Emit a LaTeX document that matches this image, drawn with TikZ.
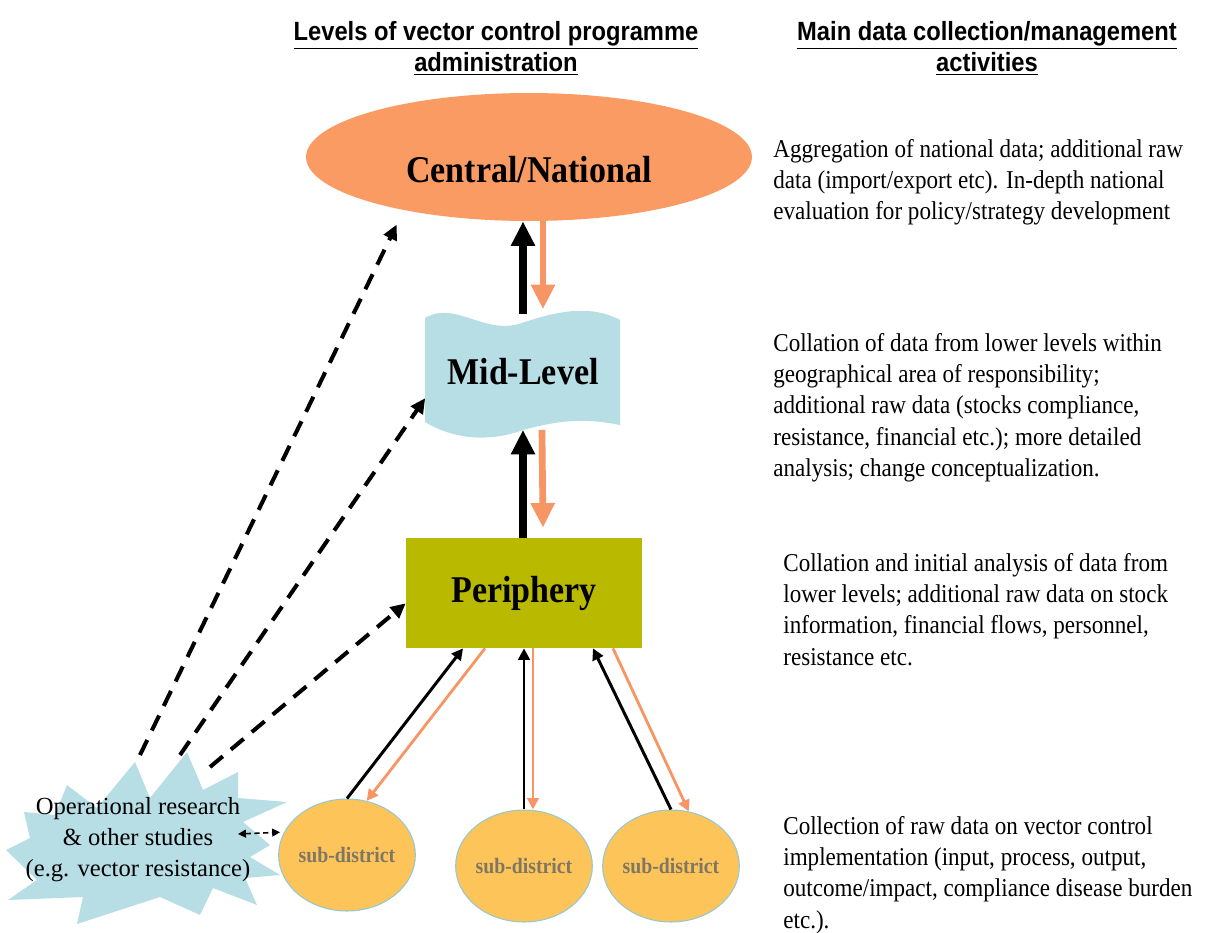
\documentclass[tikz,border=0pt]{standalone}
\usepackage{fontspec}
\usepackage{graphicx}
\setmainfont{Liberation Serif}
\newfontfamily\hfont{Liberation Sans}
\usetikzlibrary{shapes.geometric,arrows.meta}
\definecolor{cenorange}{RGB}{250,155,100}
\definecolor{arrorange}{RGB}{247,150,100}
\definecolor{lblue}{RGB}{183,221,229}
\definecolor{olivebox}{RGB}{185,185,0}
\definecolor{subfill}{RGB}{253,196,90}
\definecolor{subtext}{RGB}{128,118,100}
\definecolor{subedge}{RGB}{150,200,205}
\newcommand\lblk[2]{\scalebox{0.9}[1]{\vtop{#1\halign{##\hfil\cr#2\crcr}}}}
\newcommand\cblk[2]{\scalebox{0.9}[1]{\vtop{#1\halign{\hfil##\hfil\cr#2\crcr}}}}
\newcommand\cblkwide[2]{\vtop{#1\halign{\hfil##\hfil\cr#2\crcr}}}
\newcommand\mybigfont{\fontsize{21.5}{24}\selectfont\bfseries}
\newcommand\mybodyfont{\fontsize{14.6}{17.9}\selectfont}
\newcommand\myheadfont{\hfont\fontsize{15}{18.2}\selectfont\bfseries}
\begin{document}
\begin{tikzpicture}[x=0.02cm,y=-0.02cm,
  bigblack/.style={draw=black,line width=4.2pt,-{Triangle[length=14pt,width=13pt]}},
  bigorange/.style={draw=arrorange,line width=3.8pt,-{Triangle[length=14pt,width=13pt]}},
  thinblack/.style={draw=black,line width=1.7pt,-{Triangle[length=6.5pt,width=6.5pt]}},
  thinorange/.style={draw=arrorange,line width=1.6pt,-{Triangle[length=6.5pt,width=6.5pt]}},
  dasharrow/.style={draw=black,line width=2.3pt,dash pattern=on 9.5pt off 6pt,-{Triangle[length=8.5pt,width=8pt]}},
  smalldash/.style={draw=black,line width=0.9pt,dash pattern=on 3pt off 2pt,{Triangle[length=4.5pt,width=4.5pt]}-{Triangle[length=4.5pt,width=4.5pt]}},
  subdist/.style={ellipse,fill=subfill,draw=subedge,line width=0.6pt,minimum width=2.32cm,minimum height=2.24cm,inner sep=0pt,text=subtext},
  txt/.style={inner sep=0pt,anchor=base west},
  ctxt/.style={inner sep=0pt,anchor=base}]
\useasboundingbox (0,0) rectangle (1218,933);
\fill[white] (0,0) rectangle (1218,933);

% headings
\node[ctxt] (h1) at (496,40) {\cblk{\myheadfont}{\underline{Levels of vector control programme}\cr\underline{administration}}};
\node[ctxt] (h2) at (987,40) {\cblk{\myheadfont}{\underline{Main data collection/management}\cr\underline{activities}}};

% central
\node[ellipse,fill=cenorange,minimum width=8.92cm,minimum height=2.56cm,inner sep=0pt] (cen) at (529,157) {};
\node[inner sep=0pt] (cenlbl) at (529,170) {\scalebox{0.9}[1]{\mybigfont Central/National}};

% mid-level wave
\fill[lblue] (425,318) .. controls (455,300) and (485,336) .. (522,323)
  .. controls (560,310) and (592,305) .. (620,320) -- (620,425)
  .. controls (585,418) and (560,420) .. (523,430)
  .. controls (490,442) and (455,440) .. (425,422) -- cycle;
\node[minimum width=3.9cm,minimum height=2.3cm,inner sep=0pt] (mid) at (523,372)
  {\scalebox{0.9}[1]{\mybigfont Mid-Level}};

% periphery
\node[fill=olivebox,minimum width=4.72cm,minimum height=2.2cm,inner sep=0pt] (per) at (524,593)
  {\scalebox{0.9}[1]{\mybigfont Periphery}};

% sub-districts
\node[subdist] (c1) at (347,855) {\scalebox{0.9}[1]{\fontsize{12.5}{14}\selectfont\bfseries sub-district}};
\node[subdist] (c2) at (524,866) {\scalebox{0.9}[1]{\fontsize{12.5}{14}\selectfont\bfseries sub-district}};
\node[subdist] (c3) at (671,866) {\scalebox{0.9}[1]{\fontsize{12.5}{14}\selectfont\bfseries sub-district}};

% starburst
\fill[lblue] (135,762) -- (150,798) -- (187,752) -- (203,790) -- (238,772) -- (238,798)
  -- (287,802) -- (243,822) -- (270,845) -- (250,857) -- (280,875) -- (245,878)
  -- (257,905) -- (213,888) -- (200,915) -- (160,897) -- (77,924) -- (83,897)
  -- (8,900) -- (37,880) -- (6,850) -- (30,838) -- (24,812) -- (55,815)
  -- (67,785) -- (97,808) -- cycle;
\node[ctxt] (star) at (138,814) {\cblkwide{\fontsize{14}{17.9}\selectfont}{Operational research\cr \& other studies\cr (e.g. vector resistance)}};
\coordinate (s1) at (140,755);
\coordinate (s2) at (180,755);
\coordinate (s3) at (210,767);
\coordinate (s4) at (238,834);

% thick arrows
\draw[bigblack] (mid.north) -- (mid.north |- cen.south);
\draw[bigorange] ([xshift=0.4cm]mid.north |- cen.south) -- ([xshift=0.4cm,yshift=0.1cm]mid.north);
\draw[bigblack] ([xshift=-0.02cm]per.north) -- ([xshift=-0.02cm]per.north |- mid.south);
\draw[bigorange] ([xshift=0.38cm]mid.south) -- ([xshift=0.38cm,yshift=0.2cm]per.north);

% thin arrows
\draw[thinblack] (c1.north) -- ([xshift=-1.22cm]per.south);
\draw[thinorange] ([xshift=-0.78cm]per.south) -- (c1.70);
\draw[thinblack] (c2.north) -- (c2.north |- per.south);
\draw[thinorange] ([xshift=0.18cm]per.south) -- ([xshift=0.18cm]c2.north);
\draw[thinblack] (c3.north) -- ([xshift=1.38cm]per.south);
\draw[thinorange] ([xshift=1.78cm]per.south) -- (c3.72);

% dashed arrows
\draw[dasharrow,shorten >=0.32cm] (s1) -- (cen.203);
\draw[dasharrow] (s2) -- (mid.195);
\draw[dasharrow] (s3) -- (per.185);
\draw[smalldash,shorten >=0.08cm] (s4) -- (c1.160);

% right-hand text
\node[txt] (t1) at (773,157) {\lblk{\mybodyfont}{Aggregation of national data; additional raw\cr data (import/export etc). In-depth national\cr evaluation for policy/strategy development}};
\node[txt] (t2) at (773,351) {\lblk{\mybodyfont}{Collation of data from lower levels within\cr geographical area of responsibility;\cr additional raw data (stocks compliance,\cr resistance, financial etc.); more detailed\cr analysis; change conceptualization.}};
\node[txt] (t3) at (783,571) {\lblk{\mybodyfont}{Collation and initial analysis of data from\cr lower levels; additional raw data on stock\cr information, financial flows, personnel,\cr resistance etc.}};
\node[txt] (t4) at (783,834) {\lblk{\mybodyfont}{Collection of raw data on vector control\cr implementation (input, process, output,\cr outcome/impact, compliance disease burden\cr etc.).}};
\end{tikzpicture}
\end{document}
